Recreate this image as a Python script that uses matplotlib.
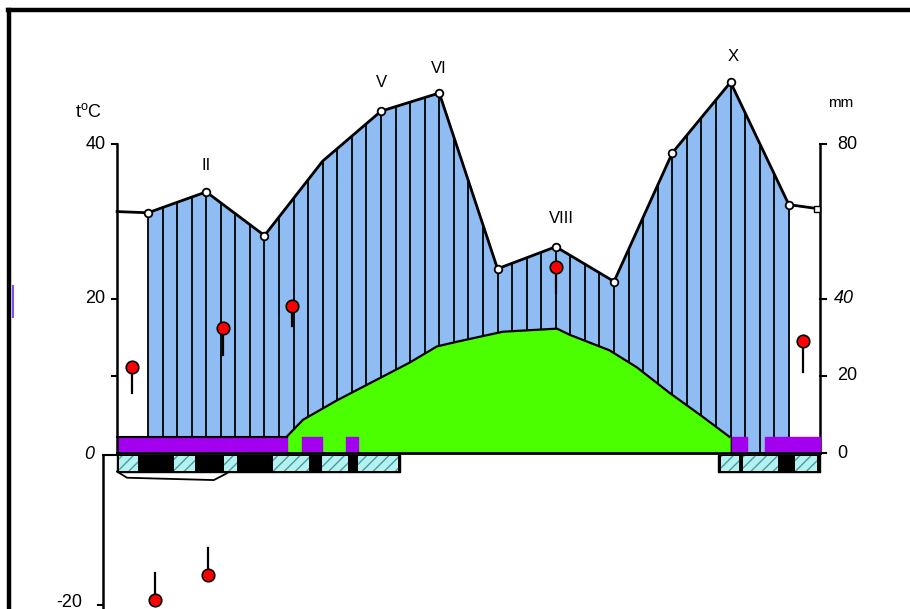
import matplotlib.pyplot as plt
import numpy as np
from matplotlib.lines import Line2D

plt.rcParams['font.family'] = ['Liberation Sans', 'DejaVu Sans']

# Monthly positions (0 = I ... 11 = XII)
months = np.arange(12)
# Precipitation, mm (right scale)
precip = [62.2, 67.6, 56.3, 75.6, 88.5, 93.2, 47.7, 53.4, 44.4, 77.7, 96.0, 64.3]
precip_edge = [62.5, 63.2]            # values at the left / right axis
precip_marker = [True, True, True, False, True, True, True, True, True, True, True, True]

# Green curve, deg C (left scale)
green_x = [2.38, 2.66, 3.24, 3.98, 4.49, 4.96, 5.30, 6.09, 7.02, 7.24, 7.92, 8.39, 8.95, 9.52, 9.98]
green_t = [2.1, 4.3, 6.8, 9.7, 11.7, 13.8, 14.4, 15.7, 16.1, 15.3, 13.3, 11.1, 7.8, 4.7, 2.1]

# Purple band (0..2.1 C) segments, in month units
purple_segs = [(-0.53, 2.38), (2.65, 2.99), (3.40, 3.61), (10.02, 10.28), (10.59, 11.53)]
purple_top = 2.1

# Strip below zero axis: cyan hatched segments on black
strip_black = [(-0.53, 4.32), (9.78, 11.53)]
strip_cyan = [(-0.50, -0.17), (0.45, 0.81), (1.30, 1.53), (2.14, 2.76), (2.99, 3.43),
              (3.60, 4.29), (9.83, 10.14), (10.21, 10.81), (11.10, 11.49)]

# Red dots with stems: x, value, stem end (deg C)
red_x = [-0.27, 1.29, 2.47, 7.00, 11.25, 0.12, 1.03]
red_t = [11.1, 16.2, 19.0, 24.1, 14.5, -19.0, -15.8]
red_stem = [7.8, 12.7, 16.4, 20.7, 10.5, -15.5, -12.3]

# Month labels
lab_text = ['II', 'V', 'VI', 'VIII', 'X']
lab_x = [1.0, 4.0, 5.0, 7.1, 10.05]
lab_y = [37.2, 48.0, 49.8, 30.4, 51.3]

left_ticks = [40, 20, 10, 0]
right_ticks = [80, 40, 20, 0]

XL, XR = -0.53, 11.53          # axis positions
XLOW = -0.77                   # offset lower axis

fig = plt.figure(figsize=(9.10, 6.09), dpi=100)
ax2 = fig.add_axes([0, 0, 1, 1])     # mm scale, drawn underneath
ax = ax2.twinx()                      # deg C scale, drawn on top
ax.set_zorder(ax2.get_zorder() + 1)
ax.patch.set_visible(False)
ax2.set_xlim(-2.54, 13.08)
ax.set_ylim(-20.19, 58.64)
ax2.set_ylim(-40.38, 117.28)
ax.axis('off')
ax2.axis('off')

blue = '#8fbdf3'
green = '#4cff00'
purple = '#a400f0'

# precipitation area
px = np.concatenate([[XL], months, [XR]])
pv = np.concatenate([[precip_edge[0]], precip, [precip_edge[1]]])
ax2.fill_between(months, 0, precip, color=blue, zorder=1)
# vertical hatching every quarter month
qx = np.arange(0, 11.01, 0.25)
qtop = np.interp(qx, months, precip)
ax2.vlines(qx, 0, qtop, color='black', lw=1.3, zorder=2)
ax2.plot(px, pv, color='black', lw=2, zorder=7)
mk = [i for i in range(12) if precip_marker[i]]
ax2.plot(months[mk], np.array(precip)[mk], 'o', ms=5.5, mfc='white', mec='black',
         mew=1.3, zorder=8)
ax2.plot([XR - 0.05], [precip_edge[1]], 's', ms=4, mfc='white', mec='black', zorder=8)

# right axis
ax2.plot([XR, XR], [0, 80], color='black', lw=1.8, zorder=7)
for t in right_ticks:
    ax2.plot([XR, XR + 0.1], [t, t], color='black', lw=1.5, zorder=7)

# green area
ax.fill_between(green_x, 0, green_t, color=green, zorder=3)
ax.plot(green_x, green_t, color='black', lw=1.6, zorder=4)
ax.vlines(green_x[0], 0, green_t[0], color=green, lw=2, zorder=3)

# purple band
for a, b in purple_segs:
    ax.fill_between([a, b], 0, purple_top, color=purple, zorder=5)
ax.plot([XL, green_x[0]], [purple_top, purple_top], color='black', lw=1.5, zorder=6)

# zero line
ax.plot([XL, XR], [0, 0], color='black', lw=2, zorder=6)

# strip below zero
for a, b in strip_black:
    ax.fill_between([a, b], -2.5, -0.2, color='black', zorder=5)
for a, b in strip_cyan:
    ax.fill_between([a, b], -2.3, -0.4, facecolor='#b4f2f2', edgecolor='#4a9a9a',
                    hatch='///', lw=0, zorder=6)
ax.plot([XL, -0.36, 1.13, 1.36], [-2.4, -3.2, -3.5, -2.6], color='black', lw=1.3, zorder=6)

# red dots
for x, t, s in zip(red_x, red_t, red_stem):
    ax.plot([x, x], [t, s], color='black', lw=1.6, zorder=9)
ax.plot(red_x, red_t, 'o', ms=9, mfc='#ff0000', mec='black', mew=1.2, zorder=10)

# left axis
ax.plot([XL, XL], [0, 40], color='black', lw=1.8, zorder=7)
for t in left_ticks[:-1]:
    ax.plot([XL - 0.08, XL], [t, t], color='black', lw=1.5, zorder=7)
ax.plot([XLOW, XLOW], [-0.3, -21], color='black', lw=1.8, zorder=7)
ax.plot([XLOW, XL], [-0.3, -0.3], color='black', lw=1.5, zorder=7)
ax.plot([XLOW - 0.08, XLOW], [-19.7, -19.7], color='black', lw=1.5, zorder=7)

# tick labels
fs = 13
ax.text(XL - 0.2, 40, '40', ha='right', va='center', fontsize=fs)
ax.text(XL - 0.2, 20, '20', ha='right', va='center', fontsize=fs)
ax.text(XL - 0.4, -0.2, '0', ha='right', va='center', fontsize=fs, style='italic')
ax.text(XLOW - 0.35, -19.3, '-20', ha='right', va='center', fontsize=fs)
ax.text(XL - 0.5, 44.2, 't$^{\\mathregular{o}}$C', ha='center', va='center', fontsize=fs)
ax2.text(XR + 0.3, 80, '80', ha='left', va='center', fontsize=fs)
ax2.text(XR + 0.25, 40, '40', ha='left', va='center', fontsize=fs, style='italic')
ax2.text(XR + 0.3, 20, '20', ha='left', va='center', fontsize=fs)
ax2.text(XR + 0.3, 0, '0', ha='left', va='center', fontsize=fs)
ax2.text(XR + 0.15, 90.5, 'mm', ha='left', va='center', fontsize=11)

for s, x, y in zip(lab_text, lab_x, lab_y):
    ax.text(x, y, s, ha='center', va='center', fontsize=12)

# frame (top and left edges)
fig.add_artist(Line2D([0.0088, 1.0], [0.9835, 0.9835], color='black', lw=3.2,
                      transform=fig.transFigure))
fig.add_artist(Line2D([0.0099, 0.0099], [0.0, 0.9835], color='black', lw=3.2,
                      transform=fig.transFigure))
fig.add_artist(Line2D([0.0143, 0.0143], [0.48, 0.53], color='#8050ff', lw=1.5,
                      transform=fig.transFigure))

fig.savefig('out.png', dpi=100)
